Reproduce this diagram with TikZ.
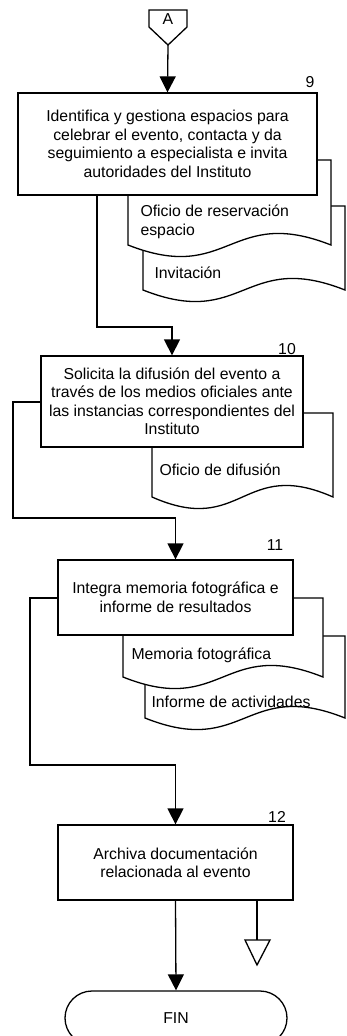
\documentclass[tikz,border=0pt]{standalone}
\usepackage{fontspec}
\setmainfont{Liberation Sans}
\usetikzlibrary{arrows.meta}
\usetikzlibrary{positioning}

\tikzset{
proceso/.style={draw, fill=white, line width=1.3pt, align=center, inner sep=0pt},
flecha/.style={line width=1.3pt, -{Triangle[length=16pt,width=16pt]}},
linea/.style={line width=1.3pt},
}
\newcommand{\docu}[4]{% x1, x2, arriba, abajo
\draw[linea, fill=white] (#1,#4) -- (#1,#3) -- (#2,#3) -- (#2,#4)
 .. controls ({(#1+#2)/2},{#4-40}) and ({(#1+#2)/2},{#4+40}) .. (#1,#4) -- cycle;
}

\begin{document}
\begin{tikzpicture}[x=1pt, y=-1pt, font=\fontsize{15.8}{18.5}\selectfont]
\useasboundingbox (0,0) rectangle (346,1036);

% conector A
\draw[linea] (149,10) -- (187,10) -- (187,27) -- (168,45) -- (149,27) -- cycle;
\node (letraA) at (168,19) {A};
\coordinate (Ap) at (168,45);

% paso 9
\docu{143}{345}{206}{290}
\docu{128}{331}{160}{245}
\node[proceso, minimum width=299pt, minimum height=102pt] (p9) at (167.5,144)
{Identifica y gestiona espacios para\\celebrar el evento, contacta y da\\seguimiento a especialista e invita\\autoridades del Instituto};
\node (n9) at (310,82) {9};
\node[anchor=west, align=left] (d9a) at (137,222) {Oficio de reservación\\espacio};
\node[anchor=west] (d9b) at (151,273) {Invitación};
\draw[flecha] (Ap) -- (p9.north);

% paso 10
\coordinate (q1) at (97,327);
\docu{152}{333}{413}{497}
\node[proceso, minimum width=262pt, minimum height=91pt] (p10) at (172,401.5)
{Solicita la difusión del evento a\\través de los medios oficiales ante\\las instancias correspondientes del\\Instituto};
\node (n10) at (287,349) {10};
\node[anchor=west] (d10) at (156,470) {Oficio de difusión};
\draw[flecha] (p9.south -| q1) -- (q1) -| (p10.north);

% paso 11
\coordinate (q2) at (13,402);
\coordinate (q3) at (13,518);
\docu{145}{345}{636}{718}
\docu{123}{323}{598}{677}
\node[proceso, minimum width=235pt, minimum height=75pt] (p11) at (175.5,597.5)
{Integra memoria fotográfica e\\informe de resultados};
\node (n11) at (275,545) {11};
\node[anchor=west] (d11a) at (128,655) {Memoria fotográfica};
\node[anchor=west] (d11b) at (148,702) {Informe de actividades};
\draw[flecha] (p10.west |- q2) -- (q2) -- (q3) -| (p11.north);

% paso 12
\coordinate (q4) at (30,598);
\coordinate (q5) at (30,765);
\node[proceso, minimum width=235pt, minimum height=75pt] (p12) at (175.5,862.5)
{Archiva documentación\\relacionada al evento};
\node (n12) at (277,817) {12};
\draw[flecha] (p11.west |- q4) -- (q4) -- (q5) -| (p12.north);

% fuera de pagina
\coordinate (q6) at (257,940);
\draw[linea] (p12.south -| q6) -- (q6);
\draw[linea] (245,940) -- (270,940) -- (257,965) -- cycle;

% fin
\node[draw, line width=1.3pt, rounded corners=27pt, minimum width=222pt, minimum height=54pt] (fin) at (176,1018) {FIN};
\draw[flecha] (p12.south) -- (fin.north);
\end{tikzpicture}
\end{document}
